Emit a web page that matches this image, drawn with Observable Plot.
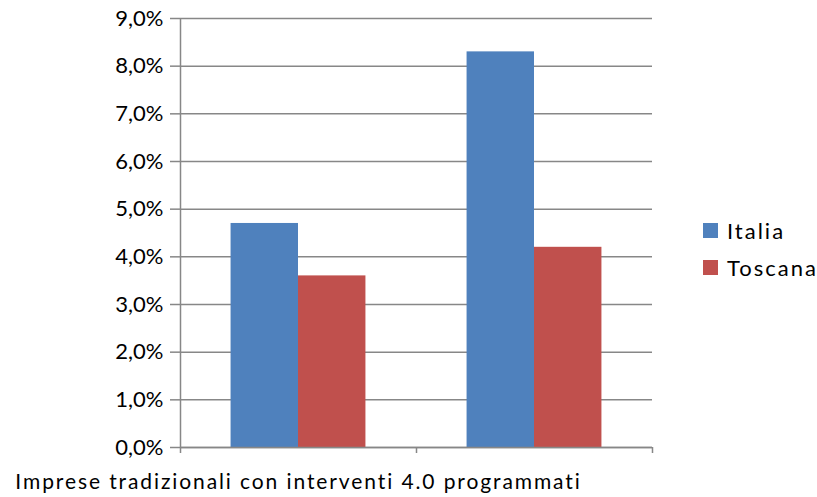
<!DOCTYPE html>
<html>
<head>
<meta charset="utf-8">
<script src="https://cdn.jsdelivr.net/npm/d3@7"></script>
<script src="https://cdn.jsdelivr.net/npm/@observablehq/plot@0.6"></script>
<style>
  html, body { margin: 0; padding: 0; background: #fff; }
  #wrap { position: relative; width: 817px; height: 497px; font-family: Lato, "Open Sans", sans-serif; }
  #legend { position: absolute; left: 703px; top: 212px; font-size: 22px; letter-spacing: 2px; color: #000; }
  .item { display: flex; align-items: center; height: 37px; }
  .sw { width: 15px; height: 15px; margin-right: 9px; }
  g[aria-label="x-axis tick label"] text { letter-spacing: 1.9px; }
</style>
</head>
<body>
<div id="wrap"></div>
<script>
const categories = ["Imprese tradizionali con interventi 4.0 programmati", "Imprese 4.0"];
const tickLabels = ["Imprese tradizionali con interventi 4.0 programmati", ""];
const series = ["Italia", "Toscana"];
const italia = [0.047, 0.083];
const toscana = [0.036, 0.042];
const colors = ["#4F81BD", "#C0504D"];
const yTicks = [0, 0.01, 0.02, 0.03, 0.04, 0.05, 0.06, 0.07, 0.08, 0.09];

const gap = 1.5; // Excel gap width 150%
const barW = 1 / (2 + gap);
const data = [];
categories.forEach((c, i) => {
  data.push({cat: i, series: "Italia", slot: 0, value: italia[i]});
  data.push({cat: i, series: "Toscana", slot: 1, value: toscana[i]});
});

const fmt = d => (d * 100).toFixed(1).replace(".", ",") + "%";
const grid = "#878787";

const chart = Plot.plot({
  width: 817,
  height: 497,
  marginLeft: 180,
  marginRight: 165,
  marginTop: 18,
  marginBottom: 50,
  style: {fontFamily: "Lato, 'Open Sans', sans-serif", fontSize: "22px", color: "#000", background: "#fff"},
  x: {type: "linear", domain: [0, categories.length], axis: null},
  y: {domain: [0, 0.09], axis: null},
  color: {domain: series, range: colors},
  marks: [
    Plot.ruleY(yTicks, {stroke: grid, strokeWidth: 1.5}),
    Plot.rectY(data, {
      x1: d => d.cat + gap / 2 * barW + d.slot * barW,
      x2: d => d.cat + gap / 2 * barW + (d.slot + 1) * barW,
      y1: 0,
      y2: "value",
      fill: "series"
    }),
    Plot.ruleX([0], {stroke: grid, strokeWidth: 1.5}),
    Plot.ruleY([0], {stroke: grid, strokeWidth: 1.5}),
    Plot.axisY({ticks: yTicks, tickFormat: fmt, tickSize: 10, tickPadding: 7, stroke: grid, strokeWidth: 1.5, fontSize: 22, label: null}),
    Plot.axisX({ticks: d3.range(categories.length + 1), tickFormat: () => "", tickSize: 6, stroke: grid, strokeWidth: 1.5, label: null}),
    Plot.axisX({ticks: categories.map((c, i) => i + 0.5), tickFormat: d => tickLabels[Math.floor(d)], tickSize: 0, tickPadding: 27, fontSize: 21, label: null})
  ]
});

const wrap = document.getElementById("wrap");
wrap.appendChild(chart);

const legend = document.createElement("div");
legend.id = "legend";
series.forEach((s, i) => {
  const it = document.createElement("div");
  it.className = "item";
  const sw = document.createElement("span");
  sw.className = "sw";
  sw.style.background = colors[i];
  const tx = document.createElement("span");
  tx.textContent = s;
  it.appendChild(sw);
  it.appendChild(tx);
  legend.appendChild(it);
});
wrap.appendChild(legend);
</script>
</body>
</html>
